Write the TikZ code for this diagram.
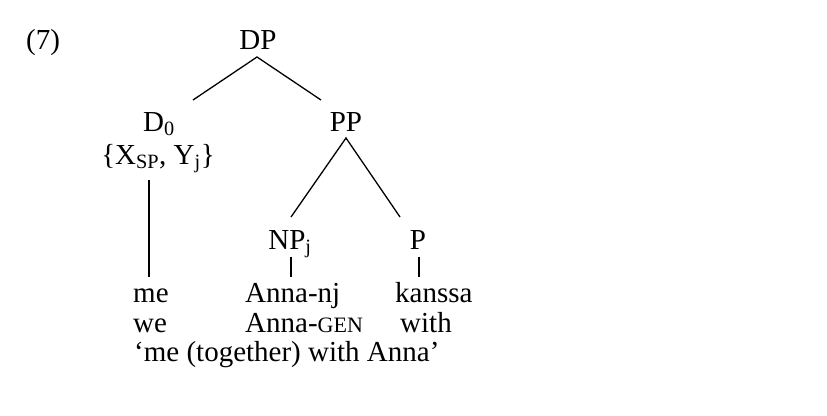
\documentclass[tikz,border=0pt]{standalone}
\usepackage{fontspec}
\setmainfont{Liberation Serif}
\begin{document}
\begin{tikzpicture}[x=1pt,y=-1pt,
  lbl/.style={inner sep=0pt, anchor=base, font=\fontsize{29}{30}\selectfont},
  lblw/.style={lbl, anchor=base west},
  branch/.style={line width=1.3pt}]
\useasboundingbox (0,0) rectangle (827,415);
% labels
\node[lblw] (ex) at (26,49) {(7)};
\node[lbl] (DP) at (258,49) {DP};
\node[lbl] (D0) at (159,131) {D\textsubscript{0}};
\node[lbl] (feat) at (158,164) {\{X\textsubscript{SP}, Y\textsubscript{j}\}};
\node[lbl] (PP) at (346,131) {PP};
\node[lbl] (NP) at (290,249) {NP\textsubscript{j}};
\node[lbl] (P) at (418,249) {P};
\node[lblw] (w1) at (133,302) {me};
\node[lblw] (w2) at (245,302) {Anna-nj};
\node[lblw] (w3) at (395,302) {kanssa};
\node[lblw] (g1) at (133,332) {we};
\node[lblw] (g2) at (245,332) {Anna-{\fontsize{22}{22}\selectfont GEN}};
\node[lblw] (g3) at (400,332) {with};
\node[lblw] (tr) at (134,361) {‘me (together) with Anna’};
% branch points
\coordinate (DPa) at (257,57);
\coordinate (D0t) at (193,100);
\coordinate (PPt) at (321,100);
\coordinate (PPa) at (346,138);
\coordinate (NPt) at (291,217);
\coordinate (Pt) at (400,217);
\coordinate (featb) at (149,180);
\coordinate (w1t) at (149,277);
\coordinate (NPb) at (291,257);
\coordinate (w2t) at (291,277);
\coordinate (Pb) at (419,257);
\coordinate (w3t) at (419,277);
% connectors
\draw[branch] (D0t) -- (DPa) -- (PPt);
\draw[branch] (NPt) -- (PPa) -- (Pt);
\draw[branch] (featb) -- (w1t);
\draw[branch] (NPb) -- (w2t);
\draw[branch] (Pb) -- (w3t);
\end{tikzpicture}
\end{document}
